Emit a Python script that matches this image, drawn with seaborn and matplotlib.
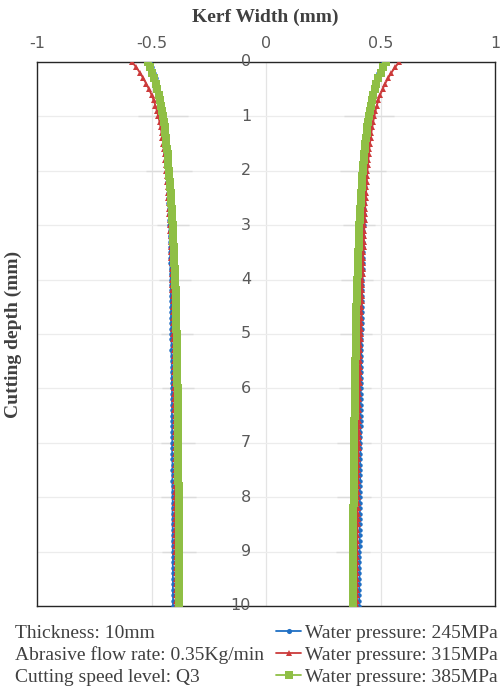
import numpy as np
import pandas as pd
import matplotlib
matplotlib.use("Agg")
import matplotlib.pyplot as plt
import seaborn as sns
from matplotlib.lines import Line2D

# Cutting depth (mm), sampled every 0.1 mm
depth = [round(0.1 * i, 1) for i in range(101)]

# Kerf edge positions (mm) for each water pressure, left edge (negative) and right edge (positive)
left_245 = [
    -0.507, -0.497, -0.488, -0.481, -0.475, -0.470, -0.466, -0.462, -0.459, -0.456,
    -0.453, -0.451, -0.449, -0.447, -0.445, -0.443, -0.441, -0.439, -0.437, -0.436,
    -0.434, -0.433, -0.431, -0.430, -0.428, -0.427, -0.426, -0.425, -0.424, -0.423,
    -0.422, -0.421, -0.421, -0.420, -0.419, -0.419, -0.418, -0.418, -0.417, -0.417,
    -0.416, -0.416, -0.415, -0.416, -0.415, -0.414, -0.414, -0.415, -0.414, -0.413,
    -0.413, -0.413, -0.412, -0.413, -0.412, -0.412, -0.411, -0.412, -0.411, -0.411,
    -0.411, -0.410, -0.411, -0.410, -0.410, -0.411, -0.410, -0.409, -0.410, -0.409,
    -0.409, -0.410, -0.409, -0.409, -0.408, -0.409, -0.408, -0.409, -0.408, -0.408,
    -0.408, -0.407, -0.408, -0.408, -0.407, -0.408, -0.407, -0.407, -0.408, -0.407,
    -0.407, -0.406, -0.407, -0.407, -0.406, -0.407, -0.406, -0.407, -0.406, -0.406,
    -0.406,
]
left_315 = [
    -0.585, -0.566, -0.550, -0.536, -0.523, -0.511, -0.500, -0.491, -0.483, -0.476,
    -0.470, -0.465, -0.460, -0.456, -0.452, -0.449, -0.446, -0.443, -0.440, -0.438,
    -0.436, -0.434, -0.432, -0.430, -0.428, -0.426, -0.425, -0.423, -0.422, -0.420,
    -0.419, -0.418, -0.417, -0.416, -0.415, -0.414, -0.413, -0.412, -0.412, -0.411,
    -0.410, -0.409, -0.409, -0.408, -0.407, -0.407, -0.406, -0.406, -0.405, -0.405,
    -0.404, -0.404, -0.403, -0.403, -0.403, -0.402, -0.402, -0.402, -0.401, -0.401,
    -0.401, -0.400, -0.400, -0.400, -0.400, -0.399, -0.399, -0.399, -0.399, -0.399,
    -0.398, -0.398, -0.398, -0.398, -0.398, -0.398, -0.397, -0.397, -0.397, -0.397,
    -0.397, -0.397, -0.397, -0.396, -0.396, -0.396, -0.396, -0.396, -0.396, -0.396,
    -0.396, -0.395, -0.395, -0.395, -0.395, -0.395, -0.395, -0.395, -0.395, -0.395,
    -0.395,
]
left_385 = [
    -0.515, -0.505, -0.496, -0.488, -0.481, -0.474, -0.468, -0.463, -0.458, -0.454,
    -0.450, -0.446, -0.443, -0.440, -0.437, -0.435, -0.432, -0.430, -0.428, -0.426,
    -0.424, -0.422, -0.420, -0.418, -0.417, -0.415, -0.413, -0.412, -0.410, -0.409,
    -0.408, -0.406, -0.405, -0.404, -0.403, -0.402, -0.401, -0.400, -0.399, -0.398,
    -0.397, -0.396, -0.395, -0.395, -0.394, -0.393, -0.393, -0.392, -0.391, -0.391,
    -0.390, -0.390, -0.389, -0.389, -0.388, -0.388, -0.388, -0.387, -0.387, -0.387,
    -0.386, -0.386, -0.386, -0.385, -0.385, -0.385, -0.385, -0.384, -0.384, -0.384,
    -0.384, -0.384, -0.383, -0.383, -0.383, -0.383, -0.383, -0.383, -0.382, -0.382,
    -0.382, -0.382, -0.382, -0.382, -0.382, -0.381, -0.381, -0.381, -0.381, -0.381,
    -0.381, -0.381, -0.381, -0.380, -0.380, -0.380, -0.380, -0.380, -0.380, -0.380,
    -0.380,
]
right_245 = [
    0.512, 0.501, 0.491, 0.483, 0.476, 0.470, 0.465, 0.461, 0.457, 0.454,
    0.451, 0.448, 0.446, 0.444, 0.442, 0.440, 0.439, 0.437, 0.436, 0.435,
    0.434, 0.433, 0.432, 0.431, 0.430, 0.429, 0.428, 0.428, 0.427, 0.426,
    0.426, 0.425, 0.425, 0.424, 0.424, 0.423, 0.423, 0.422, 0.422, 0.421,
    0.421, 0.421, 0.420, 0.420, 0.419, 0.419, 0.419, 0.418, 0.418, 0.418,
    0.417, 0.417, 0.417, 0.416, 0.416, 0.416, 0.415, 0.415, 0.415, 0.415,
    0.414, 0.414, 0.414, 0.414, 0.413, 0.413, 0.413, 0.413, 0.412, 0.412,
    0.412, 0.412, 0.412, 0.411, 0.411, 0.411, 0.411, 0.411, 0.410, 0.410,
    0.410, 0.410, 0.410, 0.410, 0.409, 0.409, 0.409, 0.409, 0.409, 0.409,
    0.408, 0.408, 0.408, 0.408, 0.408, 0.408, 0.407, 0.407, 0.407, 0.407,
    0.407,
]
right_315 = [
    0.582, 0.563, 0.547, 0.533, 0.520, 0.509, 0.499, 0.491, 0.484, 0.478,
    0.473, 0.468, 0.464, 0.460, 0.457, 0.454, 0.451, 0.449, 0.447, 0.445,
    0.443, 0.441, 0.440, 0.438, 0.437, 0.435, 0.434, 0.433, 0.432, 0.431,
    0.430, 0.429, 0.428, 0.427, 0.426, 0.425, 0.424, 0.423, 0.422, 0.422,
    0.421, 0.420, 0.419, 0.418, 0.418, 0.417, 0.416, 0.416, 0.415, 0.414,
    0.414, 0.413, 0.412, 0.412, 0.411, 0.411, 0.410, 0.410, 0.409, 0.409,
    0.408, 0.408, 0.407, 0.407, 0.406, 0.406, 0.406, 0.405, 0.405, 0.404,
    0.404, 0.404, 0.403, 0.403, 0.403, 0.402, 0.402, 0.402, 0.401, 0.401,
    0.401, 0.401, 0.400, 0.400, 0.400, 0.400, 0.399, 0.399, 0.399, 0.399,
    0.398, 0.398, 0.398, 0.398, 0.398, 0.397, 0.397, 0.397, 0.397, 0.397,
    0.397,
]
right_385 = [
    0.524, 0.511, 0.500, 0.490, 0.482, 0.474, 0.468, 0.462, 0.457, 0.453,
    0.449, 0.445, 0.442, 0.439, 0.436, 0.434, 0.431, 0.429, 0.427, 0.425,
    0.423, 0.421, 0.419, 0.418, 0.416, 0.415, 0.413, 0.412, 0.410, 0.409,
    0.408, 0.407, 0.406, 0.405, 0.404, 0.403, 0.402, 0.401, 0.400, 0.400,
    0.399, 0.398, 0.397, 0.397, 0.396, 0.395, 0.395, 0.394, 0.394, 0.393,
    0.393, 0.392, 0.392, 0.391, 0.391, 0.390, 0.390, 0.389, 0.389, 0.389,
    0.388, 0.388, 0.388, 0.387, 0.387, 0.387, 0.386, 0.386, 0.386, 0.385,
    0.385, 0.385, 0.385, 0.384, 0.384, 0.384, 0.384, 0.383, 0.383, 0.383,
    0.383, 0.383, 0.382, 0.382, 0.382, 0.382, 0.382, 0.381, 0.381, 0.381,
    0.381, 0.381, 0.381, 0.380, 0.380, 0.380, 0.380, 0.380, 0.380, 0.380,
    0.380,
]

# Spread of the measurements at whole-millimetre depths (half width, mm)
err_depth = [1, 2, 3, 4, 5, 6, 7, 8, 9]
err_half = [0.11, 0.10, 0.07, 0.07, 0.07, 0.07, 0.075, 0.075, 0.075]

series_labels = ["Water pressure: 245MPa", "Water pressure: 315MPa", "Water pressure: 385MPa"]
x_ticks = [-1, -0.5, 0, 0.5, 1]
x_tick_labels = ["-1", "-0.5", "0", "0.5", "1"]
y_ticks = list(range(11))
conditions = ["Thickness: 10mm", "Abrasive flow rate: 0.35Kg/min", "Cutting speed level: Q3"]

colors = ["#1f6fc4", "#cc3b3b", "#8fbf45"]
markers = ["o", "^", "s"]
msizes = [3.2, 4.2, 5.2]
lwidths = [1.3, 1.3, 2.6]

sns.set_theme(style="white")
plt.rcParams["font.family"] = ["DejaVu Sans"]

fig = plt.figure(figsize=(5.01, 6.89), dpi=100)
ax = fig.add_axes([37 / 501, 1 - 606 / 689, 458 / 501, 544 / 689])

# light grid
for gx in [-0.5, 0, 0.5]:
    ax.axvline(gx, color="#e4e4e4", lw=0.9, zorder=0)
for gy in y_ticks:
    ax.axhline(gy, color="#ececec", lw=0.9, zorder=0)

# spread bars centred on the 385MPa edges
err_idx = [depth.index(float(d)) for d in err_depth]
for edge in (left_385, right_385):
    ax.errorbar([edge[i] for i in err_idx], err_depth, xerr=err_half,
                fmt="none", ecolor="#dcdcdc", elinewidth=1.0, capsize=0, zorder=1)

frames = []
for lbl, lft, rgt in zip(series_labels, [left_245, left_315, left_385],
                         [right_245, right_315, right_385]):
    frames.append(pd.DataFrame({"depth": depth, "kerf": lft, "side": "L", "series": lbl}))
    frames.append(pd.DataFrame({"depth": depth, "kerf": rgt, "side": "R", "series": lbl}))
data = pd.concat(frames, ignore_index=True)

for k, lbl in enumerate(series_labels):
    for side in ["L", "R"]:
        sub = data[(data["series"] == lbl) & (data["side"] == side)]
        sns.lineplot(data=sub, x="kerf", y="depth", sort=False, estimator=None,
                     color=colors[k], marker=markers[k], markersize=msizes[k],
                     markeredgewidth=0, linewidth=lwidths[k], ax=ax, zorder=3 + k,
                     legend=False)

ax.set_xlim(-1, 1)
ax.set_ylim(10, 0)
ax.set_xticks(x_ticks)
ax.set_xticklabels(x_tick_labels)
ax.xaxis.tick_top()
ax.tick_params(axis="x", length=0, pad=8, labelsize=11.5, labelcolor="#595959")
ax.set_yticks(y_ticks)
ax.set_yticklabels([])
ax.tick_params(axis="y", length=0)
for d in y_ticks:
    ax.text(-0.065, d, str(d), ha="right", va="center", fontsize=11.5,
            color="#595959", zorder=6)
ax.set_xlabel("")
ax.set_ylabel("")
for sp in ax.spines.values():
    sp.set_visible(True)
    sp.set_color("#262626")
    sp.set_linewidth(1.0)

fig.text(265 / 501, 1 - 17 / 689, "Kerf Width (mm)", ha="center", va="center",
         fontsize=14, fontweight="bold", family="Liberation Serif", color="#404040")
fig.text(13 / 501, 1 - 334 / 689, "Cutting depth (mm)", ha="center", va="center",
         rotation=90, fontsize=14, fontweight="bold", family="Liberation Serif",
         color="#404040")

for i, t in enumerate(conditions):
    fig.text(15 / 501, 1 - (633 + 22 * i) / 689, t, ha="left", va="center",
             fontsize=14, family="Liberation Serif", color="#404040")

handles = [Line2D([0], [0], color=colors[k], marker=markers[k], markersize=msizes[k] + 0.5,
                  markeredgewidth=0, lw=1.3) for k in range(3)]
fig.legend(handles, series_labels, loc="upper left",
           bbox_to_anchor=(276 / 501, 1 - 624 / 689), frameon=False,
           prop={"family": "Liberation Serif", "size": 14}, labelcolor="#404040",
           handlelength=1.3, handletextpad=0.2, labelspacing=0.24, borderpad=0,
           borderaxespad=0)

fig.savefig("out.png", dpi=100)
